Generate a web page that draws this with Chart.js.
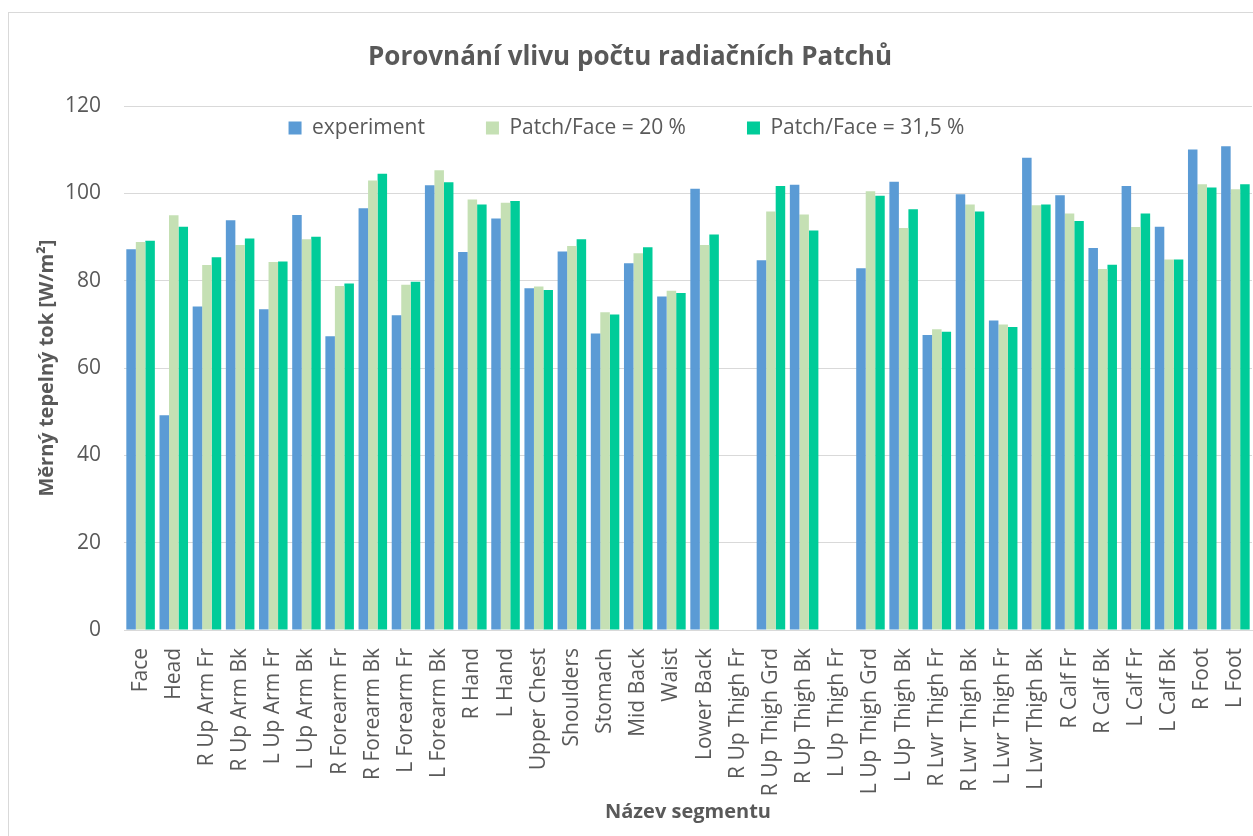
<!DOCTYPE html>
<html>
<head>
<meta charset="utf-8">
<script src="https://cdn.jsdelivr.net/npm/chart.js@4.4.0/dist/chart.umd.min.js"></script>
<style>
    html, body { margin: 0; padding: 0; background: #fff; overflow: hidden; }
    #frame { position: absolute; left: 8px; top: 12px; width: 1270px; height: 850px; border: 1px solid #d9d9d9; }
    #wrap { position: absolute; left: 0; top: 0; width: 1253px; height: 836px; }
</style>
</head>
<body>
<div id="frame"></div>
<div id="wrap"><canvas id="chart"></canvas></div>
<script>
// Data
const segments = ['Face', 'Head', 'R Up Arm Fr', 'R Up Arm Bk', 'L Up Arm Fr', 'L Up Arm Bk',
    'R Forearm Fr', 'R Forearm Bk', 'L Forearm Fr', 'L Forearm Bk', 'R Hand', 'L Hand',
    'Upper Chest', 'Shoulders', 'Stomach', 'Mid Back', 'Waist', 'Lower Back',
    'R Up Thigh Fr', 'R Up Thigh Grd', 'R Up Thigh Bk', 'L Up Thigh Fr', 'L Up Thigh Grd', 'L Up Thigh Bk',
    'R Lwr Thigh Fr', 'R Lwr Thigh Bk', 'L Lwr Thigh Fr', 'L Lwr Thigh Bk',
    'R Calf Fr', 'R Calf Bk', 'L Calf Fr', 'L Calf Bk', 'R Foot', 'L Foot'];

const experiment = [87.2, 49.2, 74.1, 93.9, 73.5, 95.1, 67.3, 96.6, 72.1, 101.9, 86.6, 94.3,
    78.3, 86.7, 67.9, 84.0, 76.4, 101.1, null, 84.7, 102.0, null, 82.9, 102.7,
    67.6, 99.8, 70.9, 108.2, 99.6, 87.5, 101.7, 92.4, 110.1, 110.8];

const patch20 = [88.9, 95.0, 83.6, 88.2, 84.3, 89.5, 78.8, 103.0, 79.1, 105.3, 98.6, 97.9,
    78.7, 88.0, 72.8, 86.3, 77.7, 88.2, null, 95.9, 95.2, null, 100.5, 92.1,
    68.9, 97.5, 70.0, 97.3, 95.4, 82.7, 92.3, 84.9, 102.1, 101.0];

const patch315 = [89.2, 92.4, 85.4, 89.7, 84.4, 90.1, 79.4, 104.5, 79.8, 102.6, 97.5, 98.3,
    77.9, 89.5, 72.3, 87.7, 77.2, 90.6, null, 101.7, 91.5, null, 99.5, 96.4,
    68.3, 95.9, 69.4, 97.5, 93.7, 83.7, 95.4, 84.9, 101.4, 102.1];

const yTicks = [0, 20, 40, 60, 80, 100, 120];

const textColor = '#595959';
Chart.defaults.font.family = "'Open Sans', sans-serif";
Chart.defaults.color = textColor;

// legenda nahoře, ale bez vlastního místa - kreslí se přes plochu grafu
const legendInside = {
    id: 'legendInside',
    beforeLayout(chart) {
        const lg = chart.legend;
        if (!lg || lg._inside) return;
        const fit = lg.fit;
        lg.fit = function() {
            fit.call(this);
            this.height = 0;
        };
        lg._inside = true;
    },
    afterLayout(chart) {
        const lg = chart.legend;
        if (!lg) return;
        const pad = lg.options.labels.padding;
        lg.left = 3;
        lg.right = chart.width - 3;
        lg.width = lg.right - lg.left;
        lg.top = 128 - pad - 10.5;
        lg.bottom = lg.top + 2 * pad + 30;
        lg.height = lg.bottom - lg.top;
    }
};

const ctx = document.getElementById('chart').getContext('2d');
new Chart(ctx, {
    type: 'bar',
    data: {
        labels: segments,
        datasets: [
            { label: 'experiment', data: experiment, backgroundColor: '#5b9bd5' },
            { label: 'Patch/Face = 20 %', data: patch20, backgroundColor: '#c5e0b4' },
            { label: 'Patch/Face = 31,5 %', data: patch315, backgroundColor: '#00cc99' }
        ]
    },
    options: {
        responsive: true,
        maintainAspectRatio: false,
        animation: false,
        layout: { padding: { left: 8, right: 1, top: 0, bottom: 0 } },
        datasets: {
            bar: { categoryPercentage: 0.86, barPercentage: 1.0 }
        },
        scales: {
            x: {
                grid: { display: false },
                border: { color: '#d9d9d9', width: 1 },
                ticks: {
                    autoSkip: false,
                    minRotation: 90,
                    maxRotation: 90,
                    padding: 10,
                    color: textColor,
                    font: { size: 21 }
                },
                title: {
                    display: true,
                    text: 'Název segmentu',
                    color: textColor,
                    font: { size: 20, weight: 'bold' },
                    padding: { top: 0, bottom: 12 }
                },
                afterFit(scale) {
                    scale.height = 206;
                    scale.paddingLeft = 0;
                    scale.paddingRight = 0;
                }
            },
            y: {
                min: 0,
                max: 120,
                afterBuildTicks(scale) { scale.ticks = yTicks.map(v => ({ value: v })); },
                grid: { color: '#d9d9d9', lineWidth: 1, drawTicks: false },
                border: { display: false },
                ticks: {
                    padding: 23,
                    color: textColor,
                    font: { size: 21 }
                },
                title: {
                    display: true,
                    text: 'Měrný tepelný tok [W/m²]',
                    color: textColor,
                    font: { size: 20, weight: 'bold' },
                    padding: { top: 27, bottom: 0 }
                },
                afterFit(scale) { scale.width = 116; }
            }
        },
        plugins: {
            title: {
                display: true,
                text: 'Porovnání vlivu počtu radiačních Patchů',
                color: textColor,
                font: { size: 26, weight: 'bold' },
                padding: { top: 42, bottom: 33 }
            },
            legend: {
                position: 'top',
                labels: {
                    boxWidth: 13,
                    boxHeight: 13,
                    padding: 61,
                    color: textColor,
                    font: { size: 21 }
                }
            },
            tooltip: { enabled: false }
        }
    },
    plugins: [legendInside]
});
</script>
</body>
</html>
